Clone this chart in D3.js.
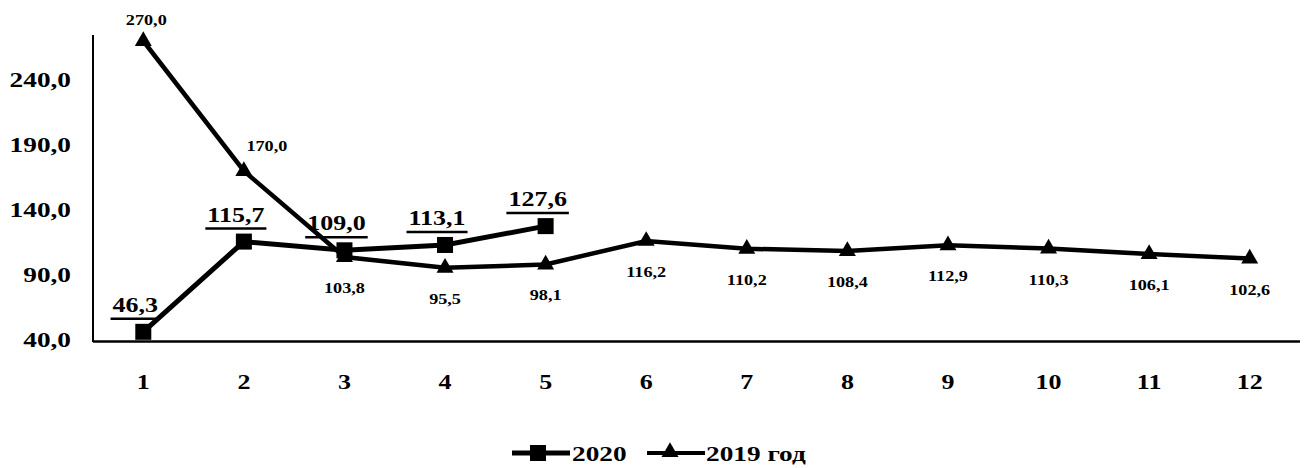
<!DOCTYPE html>
<html>
<head>
<meta charset="utf-8">
<script src="https://cdn.jsdelivr.net/npm/d3@7"></script>
<style>
  body { margin: 0; background: #fff; }
  text { font-family: "Liberation Serif", "DejaVu Serif", serif; font-weight: bold; fill: #000; }
</style>
</head>
<body>
<script>
// months on the x axis
const months = [1, 2, 3, 4, 5, 6, 7, 8, 9, 10, 11, 12];
// series values
const values2020 = [46.3, 115.7, 109.0, 113.1, 127.6];
const values2019 = [270.0, 170.0, 103.8, 95.5, 98.1, 116.2, 110.2, 108.4, 112.9, 110.3, 106.1, 102.6];
// y tick labels
const yTicks = [40, 90, 140, 190, 240];
const seriesNames = ["2020", "2019 год"];

const W = 1307, H = 468;
const stretch = 1.3; // the scanned text is wide
const fmt = v => d3.format(".1f")(v).replace(".", ",");

const svg = d3.select("body").append("svg")
    .attr("width", W)
    .attr("height", H);

svg.append("rect").attr("width", W).attr("height", H).attr("fill", "#fff");

// scales
const x = d3.scaleBand().domain(months).range([93, 1300]);
const cx = m => x(m) + x.bandwidth() / 2;
const y = d3.scaleLinear().domain([40, 240]).range([340, 80]);

// y axis labels
const yAxis = svg.append("g")
    .attr("transform", "translate(93,0)")
    .call(d3.axisLeft(y).tickValues(yTicks).tickFormat(fmt).tickSize(0).tickPadding(22));
yAxis.select(".domain").remove();
yAxis.selectAll("text")
    .attr("font-size", 21)
    .attr("font-family", null)
    .attr("x", -22 / stretch)
    .attr("transform", `scale(${stretch},1)`);

// axis lines
svg.append("line")
    .attr("x1", 93).attr("x2", 93)
    .attr("y1", 35).attr("y2", 342)
    .attr("stroke", "#000").attr("stroke-width", 2);

const xAxis = svg.append("g")
    .attr("transform", "translate(0,342)")
    .call(d3.axisBottom(x).tickSize(0).tickPadding(33));
xAxis.select(".domain").remove();
xAxis.selectAll("text")
    .attr("font-size", 20)
    .attr("font-family", null)
    .attr("transform", `scale(${stretch},1)`);

svg.append("line")
    .attr("x1", 93).attr("x2", 1300)
    .attr("y1", 341.5).attr("y2", 341.5)
    .attr("stroke", "#000").attr("stroke-width", 2.5);

// lines
const line2019 = d3.line().x((d, i) => cx(months[i])).y(d => y(d));
const line2020 = d3.line().x((d, i) => cx(months[i])).y(d => y(d));

svg.append("path")
    .datum(values2019)
    .attr("d", line2019)
    .attr("fill", "none")
    .attr("stroke", "#000")
    .attr("stroke-width", 4.5);

svg.append("path")
    .datum(values2020)
    .attr("d", line2020)
    .attr("fill", "none")
    .attr("stroke", "#000")
    .attr("stroke-width", 5);

// markers
const tri = d3.symbol().type(d3.symbolTriangle).size(125);
svg.selectAll(".tri")
    .data(values2019)
    .enter().append("path")
    .attr("class", "tri")
    .attr("d", tri)
    .attr("transform", (d, i) => `translate(${cx(months[i])},${y(d)})`)
    .attr("fill", "#000");

svg.selectAll(".sq")
    .data(values2020)
    .enter().append("rect")
    .attr("class", "sq")
    .attr("x", (d, i) => cx(months[i]) - 8)
    .attr("y", d => y(d) - 8)
    .attr("width", 16)
    .attr("height", 16)
    .attr("fill", "#000");

// helper for wide text
function wideText(g, tx, ty, str, size, anchor) {
    return g.append("text")
        .attr("transform", `translate(${tx},${ty}) scale(${stretch},1)`)
        .attr("text-anchor", anchor || "middle")
        .attr("font-size", size)
        .text(str);
}

// 2019 labels
values2019.forEach((v, i) => {
    const px = cx(months[i]), py = y(v);
    if (i === 0) wideText(svg, px + 3, py - 16, fmt(v), 14);
    else if (i === 1) wideText(svg, px + 23, py - 20, fmt(v), 14);
    else wideText(svg, px, py + 36, fmt(v), 14);
});

// 2020 labels, underlined
values2020.forEach((v, i) => {
    const px = cx(months[i]) - 8, py = y(v);
    const t = wideText(svg, px, py - 20, fmt(v), 20);
    const w = t.node().getComputedTextLength() * stretch + 4;
    svg.append("line")
        .attr("x1", px - w / 2).attr("x2", px + w / 2)
        .attr("y1", py - 13).attr("y2", py - 13)
        .attr("stroke", "#000").attr("stroke-width", 2.5);
});

// legend
const legend = svg.append("g");
legend.append("line")
    .attr("x1", 512).attr("x2", 570).attr("y1", 453).attr("y2", 453)
    .attr("stroke", "#000").attr("stroke-width", 5);
legend.append("rect")
    .attr("x", 530).attr("y", 445).attr("width", 16).attr("height", 16)
    .attr("fill", "#000");
wideText(legend, 572, 461, seriesNames[0], 21, "start");

legend.append("line")
    .attr("x1", 647).attr("x2", 705).attr("y1", 453).attr("y2", 453)
    .attr("stroke", "#000").attr("stroke-width", 4);
legend.append("path")
    .attr("d", tri)
    .attr("transform", "translate(670,452)")
    .attr("fill", "#000");
wideText(legend, 706, 461, seriesNames[1], 21, "start");
</script>
</body>
</html>
